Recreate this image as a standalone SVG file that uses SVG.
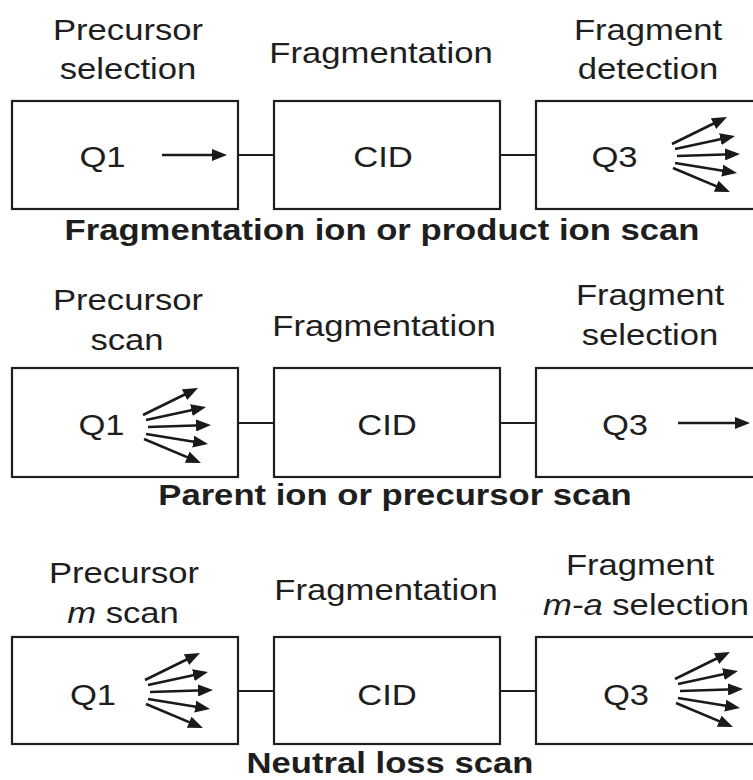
<svg xmlns="http://www.w3.org/2000/svg" xmlns:xlink="http://www.w3.org/1999/xlink" width="753" height="780" viewBox="0 0 753 780">
<style>
.box{fill:#fff;stroke:#1e1e1e;stroke-width:2.2}
.conn{stroke:#1e1e1e;stroke-width:2.2;fill:none}
.arr{stroke:#1a1a1a;stroke-width:2.6;fill:none;marker-end:url(#ah)}
text{font-family:"Liberation Sans",Arial,sans-serif;font-size:30px;fill:#1e1e1e;text-anchor:middle}
.t{font-weight:bold}
.i{font-style:italic}
</style>
<defs>
<marker id="ah" viewBox="0 0 15 12" refX="7" refY="6" markerWidth="15" markerHeight="12" markerUnits="userSpaceOnUse" orient="auto">
<path d="M0,0 L15,6 L0,12 Z" fill="#1a1a1a"/>
</marker>
<g id="fan">
<line class="arr" x1="0" y1="-11" x2="47.8" y2="-34.5"/>
<line class="arr" x1="3" y1="-6" x2="55.2" y2="-17.3"/>
<line class="arr" x1="5" y1="1" x2="60" y2="-0.75"/>
<line class="arr" x1="3" y1="8" x2="57.1" y2="16.7"/>
<line class="arr" x1="1" y1="13" x2="50.6" y2="33.9"/>
</g>
</defs>
<rect width="753" height="780" fill="#fff"/>

<g id="connectors">
<line class="conn" x1="238" y1="155" x2="274" y2="155"/>
<line class="conn" x1="500" y1="155" x2="536" y2="155"/>
<line class="conn" x1="238" y1="423" x2="274" y2="423"/>
<line class="conn" x1="500" y1="423" x2="536" y2="423"/>
<line class="conn" x1="238" y1="691" x2="274" y2="691"/>
<line class="conn" x1="500" y1="691" x2="536" y2="691"/>
</g>

<!-- Row 1 -->
<g id="r1-labels">
<text transform="translate(128,40) scale(1.155,1)">Precursor</text>
<text transform="translate(128,79) scale(1.155,1)">selection</text>
<text transform="translate(381,63) scale(1.155,1)">Fragmentation</text>
<text transform="translate(648,40) scale(1.155,1)">Fragment</text>
<text transform="translate(648,79) scale(1.155,1)">detection</text>
</g>
<g id="r1-q1">
<rect class="box" x="12" y="101" width="226" height="108"/>
<text transform="translate(102.5,167) scale(1.155,1)">Q1</text>
<line class="arr" x1="162" y1="155" x2="219" y2="155"/>
</g>
<g id="r1-cid">
<rect class="box" x="274" y="101" width="226" height="108"/>
<text transform="translate(383,167) scale(1.155,1)">CID</text>
</g>
<g id="r1-q3">
<rect class="box" x="536" y="101" width="240" height="108"/>
<text transform="translate(614.5,167) scale(1.155,1)">Q3</text>
<use xlink:href="#fan" href="#fan" transform="translate(672,155)"/>
</g>
<g id="r1-title">
<text class="t" transform="translate(382,240) scale(1.155,1)">Fragmentation ion or product ion scan</text>
</g>

<!-- Row 2 -->
<g id="r2-labels">
<text transform="translate(128,310) scale(1.155,1)">Precursor</text>
<text transform="translate(127,350) scale(1.155,1)">scan</text>
<text transform="translate(384,336) scale(1.155,1)">Fragmentation</text>
<text transform="translate(650,305) scale(1.155,1)">Fragment</text>
<text transform="translate(650,345) scale(1.155,1)">selection</text>
</g>
<g id="r2-q1">
<rect class="box" x="12" y="368" width="226" height="109"/>
<text transform="translate(101.5,435) scale(1.155,1)">Q1</text>
<use xlink:href="#fan" href="#fan" transform="translate(143,426)"/>
</g>
<g id="r2-cid">
<rect class="box" x="274" y="368" width="226" height="109"/>
<text transform="translate(387,435) scale(1.155,1)">CID</text>
</g>
<g id="r2-q3">
<rect class="box" x="536" y="368" width="240" height="109"/>
<text transform="translate(625,435) scale(1.155,1)">Q3</text>
<line class="arr" x1="678" y1="423" x2="742" y2="423"/>
</g>
<g id="r2-title">
<text class="t" transform="translate(395,505) scale(1.155,1)">Parent ion or precursor scan</text>
</g>

<!-- Row 3 -->
<g id="r3-labels">
<text transform="translate(124,583) scale(1.155,1)">Precursor</text>
<text transform="translate(123,623) scale(1.155,1)"><tspan class="i">m</tspan> scan</text>
<text transform="translate(386,600) scale(1.155,1)">Fragmentation</text>
<text transform="translate(640,575) scale(1.155,1)">Fragment</text>
<text transform="translate(646,615) scale(1.155,1)"><tspan class="i">m-a</tspan> selection</text>
</g>
<g id="r3-q1">
<rect class="box" x="12" y="637" width="226" height="107"/>
<text transform="translate(93,705) scale(1.155,1)">Q1</text>
<use xlink:href="#fan" href="#fan" transform="translate(145,691)"/>
</g>
<g id="r3-cid">
<rect class="box" x="274" y="637" width="226" height="107"/>
<text transform="translate(387,705) scale(1.155,1)">CID</text>
</g>
<g id="r3-q3">
<rect class="box" x="536" y="637" width="240" height="107"/>
<text transform="translate(626,705) scale(1.155,1)">Q3</text>
<use xlink:href="#fan" href="#fan" transform="translate(675,690)"/>
</g>
<g id="r3-title">
<text class="t" transform="translate(390,773) scale(1.155,1)">Neutral loss scan</text>
</g>
</svg>
